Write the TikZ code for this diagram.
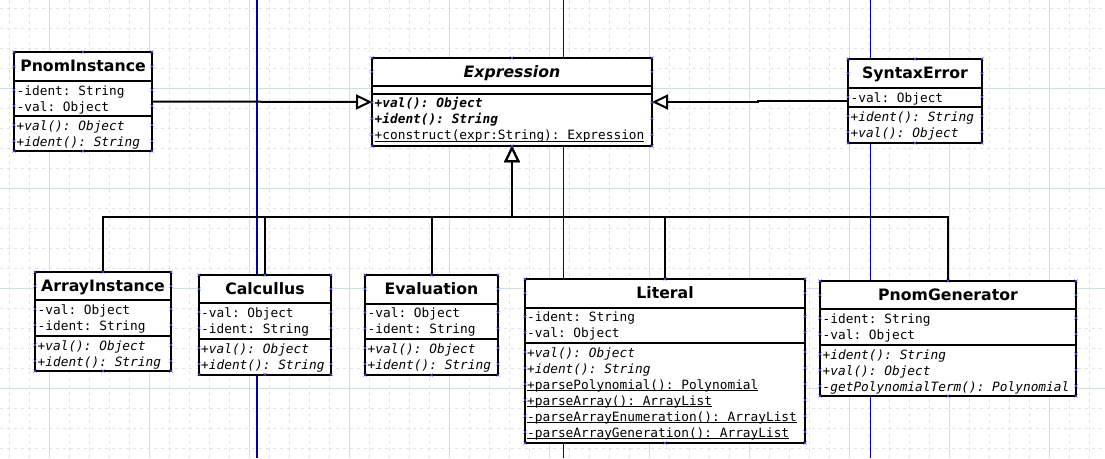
\documentclass[tikz,border=0pt]{standalone}
\usepackage{fontspec}
\setmainfont{DejaVu Sans}
\setmonofont{DejaVu Sans Mono}
\usetikzlibrary{arrows.meta}
\definecolor{gridmaj}{RGB}{208,224,224}
\definecolor{gridmin}{RGB}{222,228,228}
\definecolor{guidec}{RGB}{0,0,175}
\definecolor{markc}{RGB}{70,70,240}
\newsavebox\ulbox
\newcommand\ulx[1]{\sbox\ulbox{#1}\rlap{\rule[-2.2pt]{\wd\ulbox}{0.9pt}}\usebox\ulbox}
\newcommand\umlcls[7]{%
  \node[umlbox, anchor=north west, minimum width={#4-#2}, minimum height={#7-#3}] (#1) at (#2,#3) {};
  \draw[divider] (#2,#5) -- (#4,#5) (#2,#6) -- (#4,#6);
}
\newcommand\xmk[2]{\draw[xmarkst] (#1-1.5,#2-1.5) -- (#1+1.5,#2+1.5) (#1-1.5,#2+1.5) -- (#1+1.5,#2-1.5);}
\newcommand\clsmarks[5]{%
  \pgfmathsetmacro\cmidx{(#1+#3)/2}%
  \xmk{#1}{#2}\xmk{\cmidx}{#2}\xmk{#3}{#2}%
  \xmk{#1}{#4}\xmk{\cmidx}{#4}\xmk{#3}{#4}%
  \foreach \yy in {#5}{\xmk{#1}{\yy}\xmk{#3}{\yy}}%
}
\begin{document}
\begin{tikzpicture}[x=1pt,y=-1pt,
  umlbox/.style={draw, line width=2pt, fill=white, rectangle, inner sep=0pt, outer sep=0pt},
  divider/.style={line width=2pt},
  ttl/.style={font=\fontsize{15.7}{18}\selectfont\bfseries, anchor=base, inner sep=0pt},
  row/.style={font=\fontsize{12.8}{16}\selectfont\ttfamily, anchor=base west, inner sep=0pt},
  gen/.style={line width=2pt, -{Triangle[open, fill=white, length=16pt, width=15pt]}},
  xmarkst/.style={draw=markc, line width=0.6pt},
  gmin/.style={draw=gridmin, line width=0.8pt, dash pattern=on 3pt off 4pt},
  gmaj/.style={draw=gridmaj, line width=1pt},
  vguide/.style={draw=guidec, line width=1.1pt}]
\useasboundingbox (0,0) rectangle (1105,458);
\fill[white] (0,0) rectangle (1105,458);
% grid
\foreach \x in {9.5,29.5,...,1100} \draw[gmin] (\x,0) -- (\x,458);
\foreach \y in {8.5,28.5,...,450} \draw[gmin] (0,\y) -- (1105,\y);
\foreach \x in {49.5,149.5,...,1050} \draw[gmaj] (\x,0) -- (\x,458);
\foreach \y in {88.5,188.5,288.5,388.5} \draw[gmaj] (0,\y) -- (1105,\y);
% guides
\foreach \x in {257,563.5,870.5} \draw[vguide] (\x,0) -- (\x,458);

% class boxes
\umlcls{pi}{14}{52}{152}{81}{116}{151}
\umlcls{ex}{372}{58}{652}{85.5}{93.5}{146}
\umlcls{se}{848}{59}{982}{88}{107}{143}
\umlcls{ai}{35}{272}{171}{300}{336}{371}
\umlcls{ca}{199}{275}{331}{303}{339}{374.5}
\umlcls{ev}{365}{275}{498}{303.5}{339}{375}
\umlcls{li}{525}{279}{805}{307.5}{343}{443}
\umlcls{pg}{820}{281}{1076}{309}{345}{396}

% PnomInstance
\node[ttl] (pi-t) at (83,71) {PnomInstance};
\node[row] (pi-a1) at (16.5,95) {-ident: String};
\node[row] (pi-a2) at (16.5,111) {-val: Object};
\node[row] (pi-o1) at (16.5,130) {\itshape +val(): Object};
\node[row] (pi-o2) at (16.5,146) {\itshape +ident(): String};

% Expression
\node[ttl] (ex-t) at (512,77) {\itshape Expression};
\node[row] (ex-o1) at (374.5,107.5) {\bfseries\itshape +val(): Object};
\node[row] (ex-o2) at (374.5,123.5) {\bfseries\itshape +ident(): String};
\node[row] (ex-o3) at (374.5,139.5) {\ulx{+construct(expr:String): Expression}};

% SyntaxError
\node[ttl] (se-t) at (915,78) {SyntaxError};
\node[row] (se-a1) at (850.5,102) {-val: Object};
\node[row] (se-o1) at (850.5,121) {\itshape +ident(): String};
\node[row] (se-o2) at (850.5,137) {\itshape +val(): Object};

% ArrayInstance
\node[ttl] (ai-t) at (103,291) {ArrayInstance};
\node[row] (ai-a1) at (37.5,314) {-val: Object};
\node[row] (ai-a2) at (37.5,330) {-ident: String};
\node[row] (ai-o1) at (37.5,350) {\itshape +val(): Object};
\node[row] (ai-o2) at (37.5,366) {\itshape +ident(): String};

% Calcullus
\node[ttl] (ca-t) at (265,294) {Calcullus};
\node[row] (ca-a1) at (201,317) {-val: Object};
\node[row] (ca-a2) at (201,333) {-ident: String};
\node[row] (ca-o1) at (201,353) {\itshape +val(): Object};
\node[row] (ca-o2) at (201,369) {\itshape +ident(): String};

% Evaluation
\node[ttl] (ev-t) at (431.5,294) {Evaluation};
\node[row] (ev-a1) at (367.5,317.5) {-val: Object};
\node[row] (ev-a2) at (367.5,333.5) {-ident: String};
\node[row] (ev-o1) at (367.5,353) {\itshape +val(): Object};
\node[row] (ev-o2) at (367.5,369) {\itshape +ident(): String};

% Literal
\node[ttl] (li-t) at (665,298) {Literal};
\node[row] (li-a1) at (527,321.5) {-ident: String};
\node[row] (li-a2) at (527,337.5) {-val: Object};
\node[row] (li-o1) at (527,357) {\itshape +val(): Object};
\node[row] (li-o2) at (527,373) {\itshape +ident(): String};
\node[row] (li-o3) at (527,389) {\ulx{+parsePolynomial(): Polynomial}};
\node[row] (li-o4) at (527,405) {\ulx{+parseArray(): ArrayList}};
\node[row] (li-o5) at (527,421) {\ulx{-parseArrayEnumeration(): ArrayList}};
\node[row] (li-o6) at (527,437) {\ulx{-parseArrayGeneration(): ArrayList}};

% PnomGenerator
\node[ttl] (pg-t) at (948,300) {PnomGenerator};
\node[row] (pg-a1) at (822.5,323) {-ident: String};
\node[row] (pg-a2) at (822.5,339) {-val: Object};
\node[row] (pg-o1) at (822.5,359) {\itshape +ident(): String};
\node[row] (pg-o2) at (822.5,375) {\itshape +val(): Object};
\node[row] (pg-o3) at (822.5,391) {\itshape -getPolynomialTerm(): Polynomial};

% generalizations
\coordinate (bus) at (512,217);
\foreach \c in {ai,ca,ev,li,pg} \draw[gen] (\c.north) |- (bus) -- (ex.south);
\draw[gen] (pi.east) -- (ex.west);
\draw[gen] (se.west) -- ++(-90,0) |- (ex.east);

% connection point marks
\clsmarks{14}{52}{152}{151}{66.5,90,106,125,141}
\clsmarks{372}{58}{652}{146}{71.75,102.5,118.5,134.5}
\clsmarks{848}{59}{982}{143}{73.5,97,116,132}
\clsmarks{35}{272}{171}{371}{286,309,325,345,361}
\clsmarks{199}{275}{331}{374.5}{289,312,328,348,364}
\clsmarks{365}{275}{498}{375}{289,312.5,328.5,348,364}
\clsmarks{525}{279}{805}{443}{293,316.5,332.5,352,368,384,400,416,432}
\clsmarks{820}{281}{1076}{396}{295,318,334,354,370,386}
\end{tikzpicture}
\end{document}
